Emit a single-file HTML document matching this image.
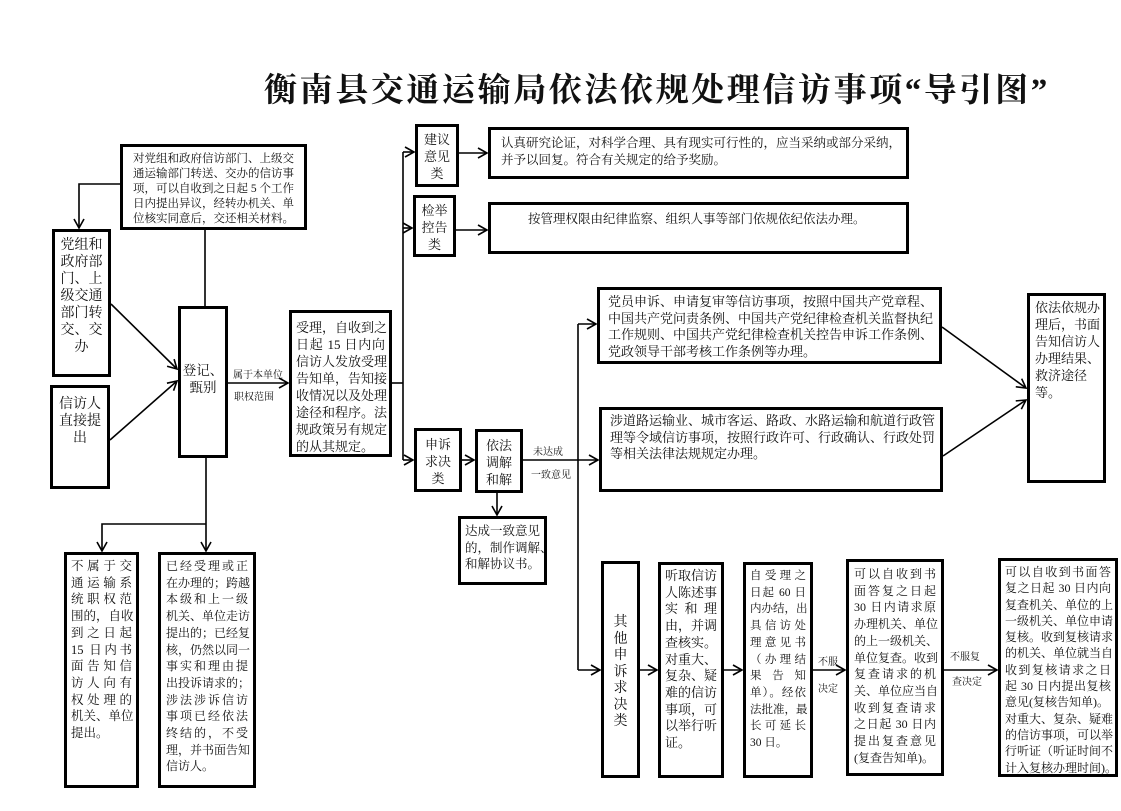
<!DOCTYPE html>
<html><head><meta charset="utf-8"><style>
body{margin:0;width:1121px;height:811px;background:#fff;position:relative;overflow:hidden;font-family:"Liberation Serif","Noto Serif CJK SC",serif;color:#111}
.b{position:absolute;border:3px solid #000;box-sizing:border-box;background:#fff}
.b p{margin:0;white-space:nowrap;text-align:justify;text-align-last:justify}
.b p.n{text-align-last:left}
.c p{text-align:center;text-align-last:center}
.t{position:absolute;font-size:10px;white-space:nowrap}
svg{position:absolute;left:0;top:0}
</style></head><body>
<div style="position:absolute;left:264px;top:64px;font-size:33px;font-weight:bold;letter-spacing:2.6px;white-space:nowrap">衡南县交通运输局依法依规处理信访事项“导引图”</div>

<svg width="1121" height="811">
<defs><marker id="a" markerWidth="12" markerHeight="12" refX="10" refY="6" orient="auto" markerUnits="userSpaceOnUse"><polyline points="1,1 10,6 1,11" fill="none" stroke="#000" stroke-width="1.6"/></marker></defs>
<g stroke="#000" stroke-width="1.6" fill="none">
<line x1="205" y1="230" x2="205" y2="306"/>
<polyline points="120,184 79,184 79,228" marker-end="url(#a)"/>
<line x1="111" y1="304" x2="177" y2="369" marker-end="url(#a)"/>
<line x1="110" y1="440" x2="177" y2="381" marker-end="url(#a)"/>
<line x1="228" y1="383" x2="288" y2="383" marker-end="url(#a)"/>
<line x1="392" y1="383" x2="403" y2="383"/>
<line x1="403" y1="152" x2="403" y2="460"/>
<line x1="403" y1="152" x2="414" y2="152" marker-end="url(#a)"/>
<line x1="403" y1="228" x2="412" y2="228" marker-end="url(#a)"/>
<line x1="403" y1="460" x2="413" y2="460" marker-end="url(#a)"/>
<line x1="459" y1="153" x2="487" y2="153" marker-end="url(#a)"/>
<line x1="456" y1="230" x2="487" y2="230" marker-end="url(#a)"/>
<line x1="462" y1="460" x2="474" y2="460" marker-end="url(#a)"/>
<line x1="523" y1="460" x2="598" y2="460" marker-end="url(#a)"/>
<line x1="578" y1="324" x2="578" y2="670"/>
<line x1="578" y1="324" x2="596" y2="324" marker-end="url(#a)"/>
<line x1="578" y1="670" x2="600" y2="670" marker-end="url(#a)"/>
<line x1="497" y1="493" x2="497" y2="515" marker-end="url(#a)"/>
<line x1="206" y1="458" x2="206" y2="551" marker-end="url(#a)"/>
<polyline points="206,524 102,524 102,551" marker-end="url(#a)"/>
<line x1="942" y1="327" x2="1026" y2="388" marker-end="url(#a)"/>
<line x1="943" y1="456" x2="1026" y2="400" marker-end="url(#a)"/>
<line x1="640" y1="670" x2="657" y2="670" marker-end="url(#a)"/>
<line x1="724" y1="670" x2="742" y2="670" marker-end="url(#a)"/>
<line x1="813" y1="670" x2="845" y2="670" marker-end="url(#a)"/>
<line x1="944" y1="670" x2="997" y2="670" marker-end="url(#a)"/>
</g></svg>

<div class="t" style="left:233px;top:366px">属于本单位</div>
<div class="t" style="left:234px;top:388px">职权范围</div>
<div class="t" style="left:533px;top:443px">未达成</div>
<div class="t" style="left:531px;top:466px">一致意见</div>
<div class="t" style="left:818px;top:653px">不服</div>
<div class="t" style="left:818px;top:680px">决定</div>
<div class="t" style="left:950px;top:648px">不服复</div>
<div class="t" style="left:952px;top:673px">查决定</div>

<div class="b" style="left:120px;top:144px;width:187px;height:86px;padding:5px 10px;font-size:11.5px;line-height:15px">
<p>对党组和政府信访部门、上级交</p><p>通运输部门转送、交办的信访事</p><p>项，可以自收到之日起 5 个工作</p><p>日内提出异议，经转办机关、单</p><p>位核实同意后，交还相关材料。</p></div>

<div class="b c" style="left:52px;top:229px;width:59px;height:148px;padding:5px 2px;font-size:14px;line-height:17px">
<p>党组和</p><p>政府部</p><p>门、上</p><p>级交通</p><p>部门转</p><p>交、交</p><p>办</p></div>

<div class="b c" style="left:50px;top:385px;width:60px;height:104px;padding:8px 2px;font-size:14px;line-height:17px">
<p>信访人</p><p>直接提</p><p>出</p></div>

<div class="b c" style="left:178px;top:306px;width:50px;height:152px;padding:53px 0 0;font-size:13.5px;line-height:17px">
<p>登记、</p><p>甄别</p></div>

<div class="b" style="left:289px;top:310px;width:103px;height:147px;padding:6px 4px;font-size:13px;line-height:17px">
<p>受理，自收到之</p><p>日起 15 日内向</p><p>信访人发放受理</p><p>告知单，告知接</p><p>收情况以及处理</p><p>途径和程序。法</p><p>规政策另有规定</p><p class="n">的从其规定。</p></div>

<div class="b c" style="left:415px;top:124px;width:44px;height:63px;padding:4px 0;font-size:13px;line-height:17px"><p>建议</p><p>意见</p><p>类</p></div>
<div class="b c" style="left:413px;top:195px;width:43px;height:62px;padding:4px 0;font-size:13px;line-height:17px"><p>检举</p><p>控告</p><p>类</p></div>

<div class="b" style="left:488px;top:127px;width:421px;height:52px;padding:5px 10px;font-size:12.5px;line-height:17px">
<p class="n">认真研究论证，对科学合理、具有现实可行性的，应当采纳或部分采纳，</p><p class="n">并予以回复。符合有关规定的给予奖励。</p></div>
<div class="b" style="left:488px;top:202px;width:421px;height:52px;padding:6px 10px;font-size:12.5px;line-height:17px">
<p class="n" style="padding-left:27px">按管理权限由纪律监察、组织人事等部门依规依纪依法办理。</p></div>

<div class="b c" style="left:414px;top:428px;width:48px;height:64px;padding:5px 0;font-size:13px;line-height:17px"><p>申诉</p><p>求决</p><p>类</p></div>
<div class="b c" style="left:475px;top:429px;width:48px;height:64px;padding:5px 0;font-size:13px;line-height:17px"><p>依法</p><p>调解</p><p>和解</p></div>

<div class="b" style="left:458px;top:516px;width:89px;height:69px;padding:4px 4px;font-size:12.5px;line-height:16.5px">
<p>达成一致意见</p><p>的，制作调解、</p><p class="n">和解协议书。</p></div>

<div class="b" style="left:597px;top:287px;width:345px;height:77px;padding:4px 8px;font-size:13px;line-height:16.7px">
<p>党员申诉、申请复审等信访事项，按照中国共产党章程、</p><p>中国共产党问责条例、中国共产党纪律检查机关监督执纪</p><p>工作规则、中国共产党纪律检查机关控告申诉工作条例、</p><p class="n">党政领导干部考核工作条例等办理。</p></div>

<div class="b" style="left:599px;top:407px;width:344px;height:85px;padding:3px 8px;font-size:13px;line-height:16.7px">
<p>涉道路运输业、城市客运、路政、水路运输和航道行政管</p><p>理等令域信访事项，按照行政许可、行政确认、行政处罚</p><p class="n">等相关法律法规规定办理。</p></div>

<div class="b" style="left:1027px;top:293px;width:79px;height:190px;padding:3px 5px;font-size:13px;line-height:17px">
<p>依法依规办</p><p>理后，书面</p><p>告知信访人</p><p class="n">办理结果、</p><p class="n">救济途径</p><p class="n">等。</p></div>

<div class="b" style="left:64px;top:552px;width:75px;height:236px;padding:3px 4px;font-size:12.5px;line-height:16.7px">
<p>不属于交</p><p>通运输系</p><p>统职权范</p><p>围的，自收</p><p>到之日起</p><p>15 日内书</p><p>面告知信</p><p>访人向有</p><p>权处理的</p><p>机关、单位</p><p class="n">提出。</p></div>

<div class="b" style="left:158px;top:552px;width:98px;height:236px;padding:3px 5px;font-size:12px;line-height:16.7px">
<p>已经受理或正</p><p>在办理的；跨越</p><p>本级和上一级</p><p>机关、单位走访</p><p>提出的；已经复</p><p>核，仍然以同一</p><p>事实和理由提</p><p>出投诉请求的；</p><p>涉法涉诉信访</p><p>事项已经依法</p><p>终结的，不受</p><p>理，并书面告知</p><p class="n">信访人。</p></div>

<div class="b c" style="left:601px;top:561px;width:39px;height:217px;padding:51px 0 0;font-size:14px;line-height:16.5px">
<p>其</p><p>他</p><p>申</p><p>诉</p><p>求</p><p>决</p><p>类</p></div>

<div class="b" style="left:658px;top:562px;width:66px;height:216px;padding:3px 4px;font-size:13px;line-height:16.7px">
<p>听取信访</p><p>人陈述事</p><p>实和理</p><p>由，并调</p><p>查核实。</p><p class="n">对重大、</p><p>复杂、疑</p><p>难的信访</p><p>事项，可</p><p>以举行听</p><p class="n">证。</p></div>

<div class="b" style="left:743px;top:562px;width:70px;height:216px;padding:3px 4px;font-size:11.5px;line-height:16.7px">
<p>自受理之</p><p>日起 60 日</p><p>内办结，出</p><p>具信访处</p><p>理意见书</p><p>（办理结</p><p>果告知</p><p>单）。经依</p><p>法批准，最</p><p>长可延长</p><p class="n">30 日。</p></div>

<div class="b" style="left:846px;top:559px;width:98px;height:217px;padding:4px 5px;font-size:12px;line-height:16.7px">
<p>可以自收到书</p><p>面答复之日起</p><p>30 日内请求原</p><p>办理机关、单位</p><p>的上一级机关、</p><p>单位复查。收到</p><p>复查请求的机</p><p>关、单位应当自</p><p>收到复查请求</p><p>之日起 30 日内</p><p>提出复查意见</p><p class="n">(复查告知单)。</p></div>

<div class="b" style="left:998px;top:558px;width:120px;height:219px;padding:3px 4px;font-size:12px;line-height:16.3px">
<p>可以自收到书面答</p><p>复之日起 30 日内向</p><p>复查机关、单位的上</p><p>一级机关、单位申请</p><p>复核。收到复核请求</p><p>的机关、单位就当自</p><p>收到复核请求之日</p><p>起 30 日内提出复核</p><p class="n">意见(复核告知单)。</p><p>对重大、复杂、疑难</p><p>的信访事项，可以举</p><p>行听证（听证时间不</p><p>计入复核办理时间)。</p></div>
</body></html>
